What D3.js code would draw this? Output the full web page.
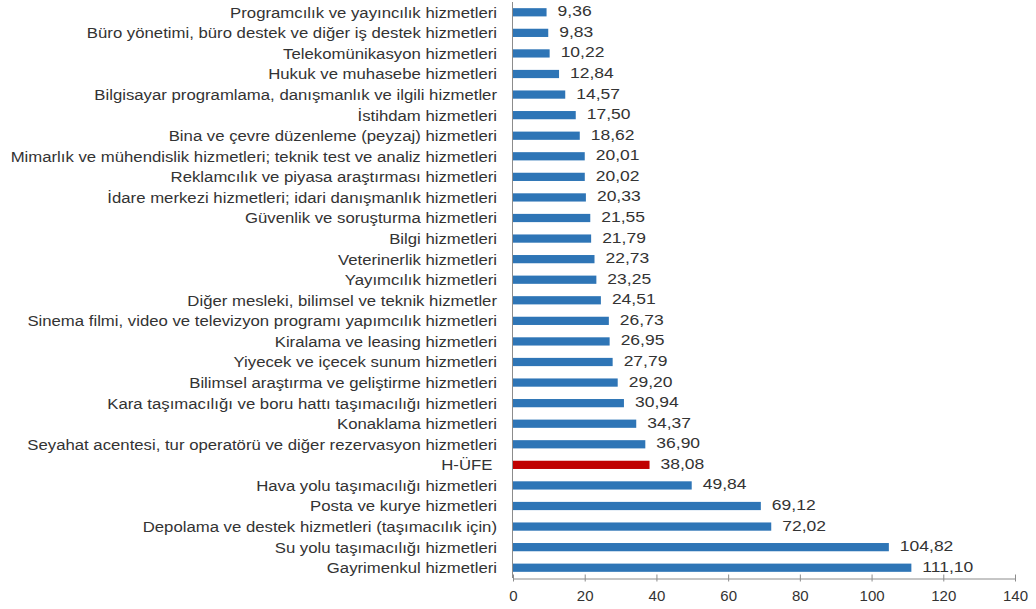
<!DOCTYPE html>
<html>
<head>
<meta charset="utf-8">
<script src="https://cdn.jsdelivr.net/npm/d3@7/dist/d3.min.js"></script>
<style>
  html, body { margin: 0; padding: 0; background: #fff; }
  svg { display: block; }
  text { font-family: "Liberation Sans", Arial, sans-serif; fill: #333; }
</style>
</head>
<body>
<svg id="chart" width="1036" height="609"></svg>
<script>
const categories = [
  "Programcılık ve yayıncılık hizmetleri",
  "Büro yönetimi, büro destek ve diğer iş destek hizmetleri",
  "Telekomünikasyon hizmetleri",
  "Hukuk ve muhasebe hizmetleri",
  "Bilgisayar programlama, danışmanlık ve ilgili hizmetler",
  "İstihdam hizmetleri",
  "Bina ve çevre düzenleme (peyzaj) hizmetleri",
  "Mimarlık ve mühendislik hizmetleri; teknik test ve analiz hizmetleri",
  "Reklamcılık ve piyasa araştırması hizmetleri",
  "İdare merkezi hizmetleri; idari danışmanlık hizmetleri",
  "Güvenlik ve soruşturma hizmetleri",
  "Bilgi hizmetleri",
  "Veterinerlik hizmetleri",
  "Yayımcılık hizmetleri",
  "Diğer mesleki, bilimsel ve teknik hizmetler",
  "Sinema filmi, video ve televizyon programı yapımcılık hizmetleri",
  "Kiralama ve leasing hizmetleri",
  "Yiyecek ve içecek sunum hizmetleri",
  "Bilimsel araştırma ve geliştirme hizmetleri",
  "Kara taşımacılığı ve boru hattı taşımacılığı hizmetleri",
  "Konaklama hizmetleri",
  "Seyahat acentesi, tur operatörü ve diğer rezervasyon hizmetleri",
  "H-ÜFE ",
  "Hava yolu taşımacılığı hizmetleri",
  "Posta ve kurye hizmetleri",
  "Depolama ve destek hizmetleri (taşımacılık için)",
  "Su yolu taşımacılığı hizmetleri",
  "Gayrimenkul hizmetleri"
];
const values = [9.36, 9.83, 10.22, 12.84, 14.57, 17.50, 18.62, 20.01, 20.02, 20.33,
  21.55, 21.79, 22.73, 23.25, 24.51, 26.73, 26.95, 27.79, 29.20, 30.94,
  34.37, 36.90, 38.08, 49.84, 69.12, 72.02, 104.82, 111.10];
const highlight = ["H-ÜFE "];
const xTicks = [0, 20, 40, 60, 80, 100, 120, 140];

const data = categories.map((c, i) => ({ c, v: values[i] }));
const svg = d3.select("#chart");
const x0 = 513, x1 = 1015, yTop = 2, yBot = 578;

const x = d3.scaleLinear().domain([0, 140]).range([x0, x1]);
const y = d3.scaleBand().domain(categories).range([yTop, yBot]).paddingInner(0.6).paddingOuter(0.3);

// bars
svg.append("g").selectAll("rect").data(data).join("rect")
  .attr("x", x(0))
  .attr("y", d => y(d.c))
  .attr("width", d => x(d.v) - x(0))
  .attr("height", y.bandwidth())
  .attr("fill", d => highlight.includes(d.c) ? "#C00000" : "#2E75B6");

// value labels
const fmt = v => v.toFixed(2).replace(".", ",");
svg.append("g").selectAll("text").data(data).join("text")
  .attr("transform", d => `translate(${x(d.v) + 11},${y(d.c) + y.bandwidth() / 2 - 1.5}) scale(1.13,1)`)
  .attr("dy", "0.35em")
  .attr("font-size", 15.5)
  .text(d => fmt(d.v));

// category labels
svg.append("g").selectAll("text").data(data).join("text")
  .attr("transform", d => `translate(497,${y(d.c) + y.bandwidth() / 2}) scale(1.08,1)`)
  .attr("dy", "0.35em")
  .attr("text-anchor", "end")
  .attr("font-size", 15.5)
  .style("white-space", "pre")
  .text(d => d.c);

// y axis line
svg.append("line")
  .attr("x1", x(0) - 0.5).attr("x2", x(0) - 0.5)
  .attr("y1", yTop).attr("y2", yBot)
  .attr("stroke", "#8c8c8c").attr("stroke-width", 1);

// x axis
const xAxis = d3.axisBottom(x).tickValues(xTicks).tickSize(0).tickPadding(12);
const gx = svg.append("g").attr("transform", `translate(0,${yBot + 0.5})`).call(xAxis);
gx.select(".domain").attr("stroke", "#8c8c8c");
gx.selectAll(".tick line").remove();
gx.selectAll(".tick").append("line")
  .attr("y1", -4).attr("y2", 3).attr("stroke", "#8c8c8c");
gx.selectAll(".tick text")
  .attr("font-size", 15)
  .attr("font-family", "Liberation Sans, Arial, sans-serif")
  .attr("fill", "#333");
</script>
</body>
</html>
